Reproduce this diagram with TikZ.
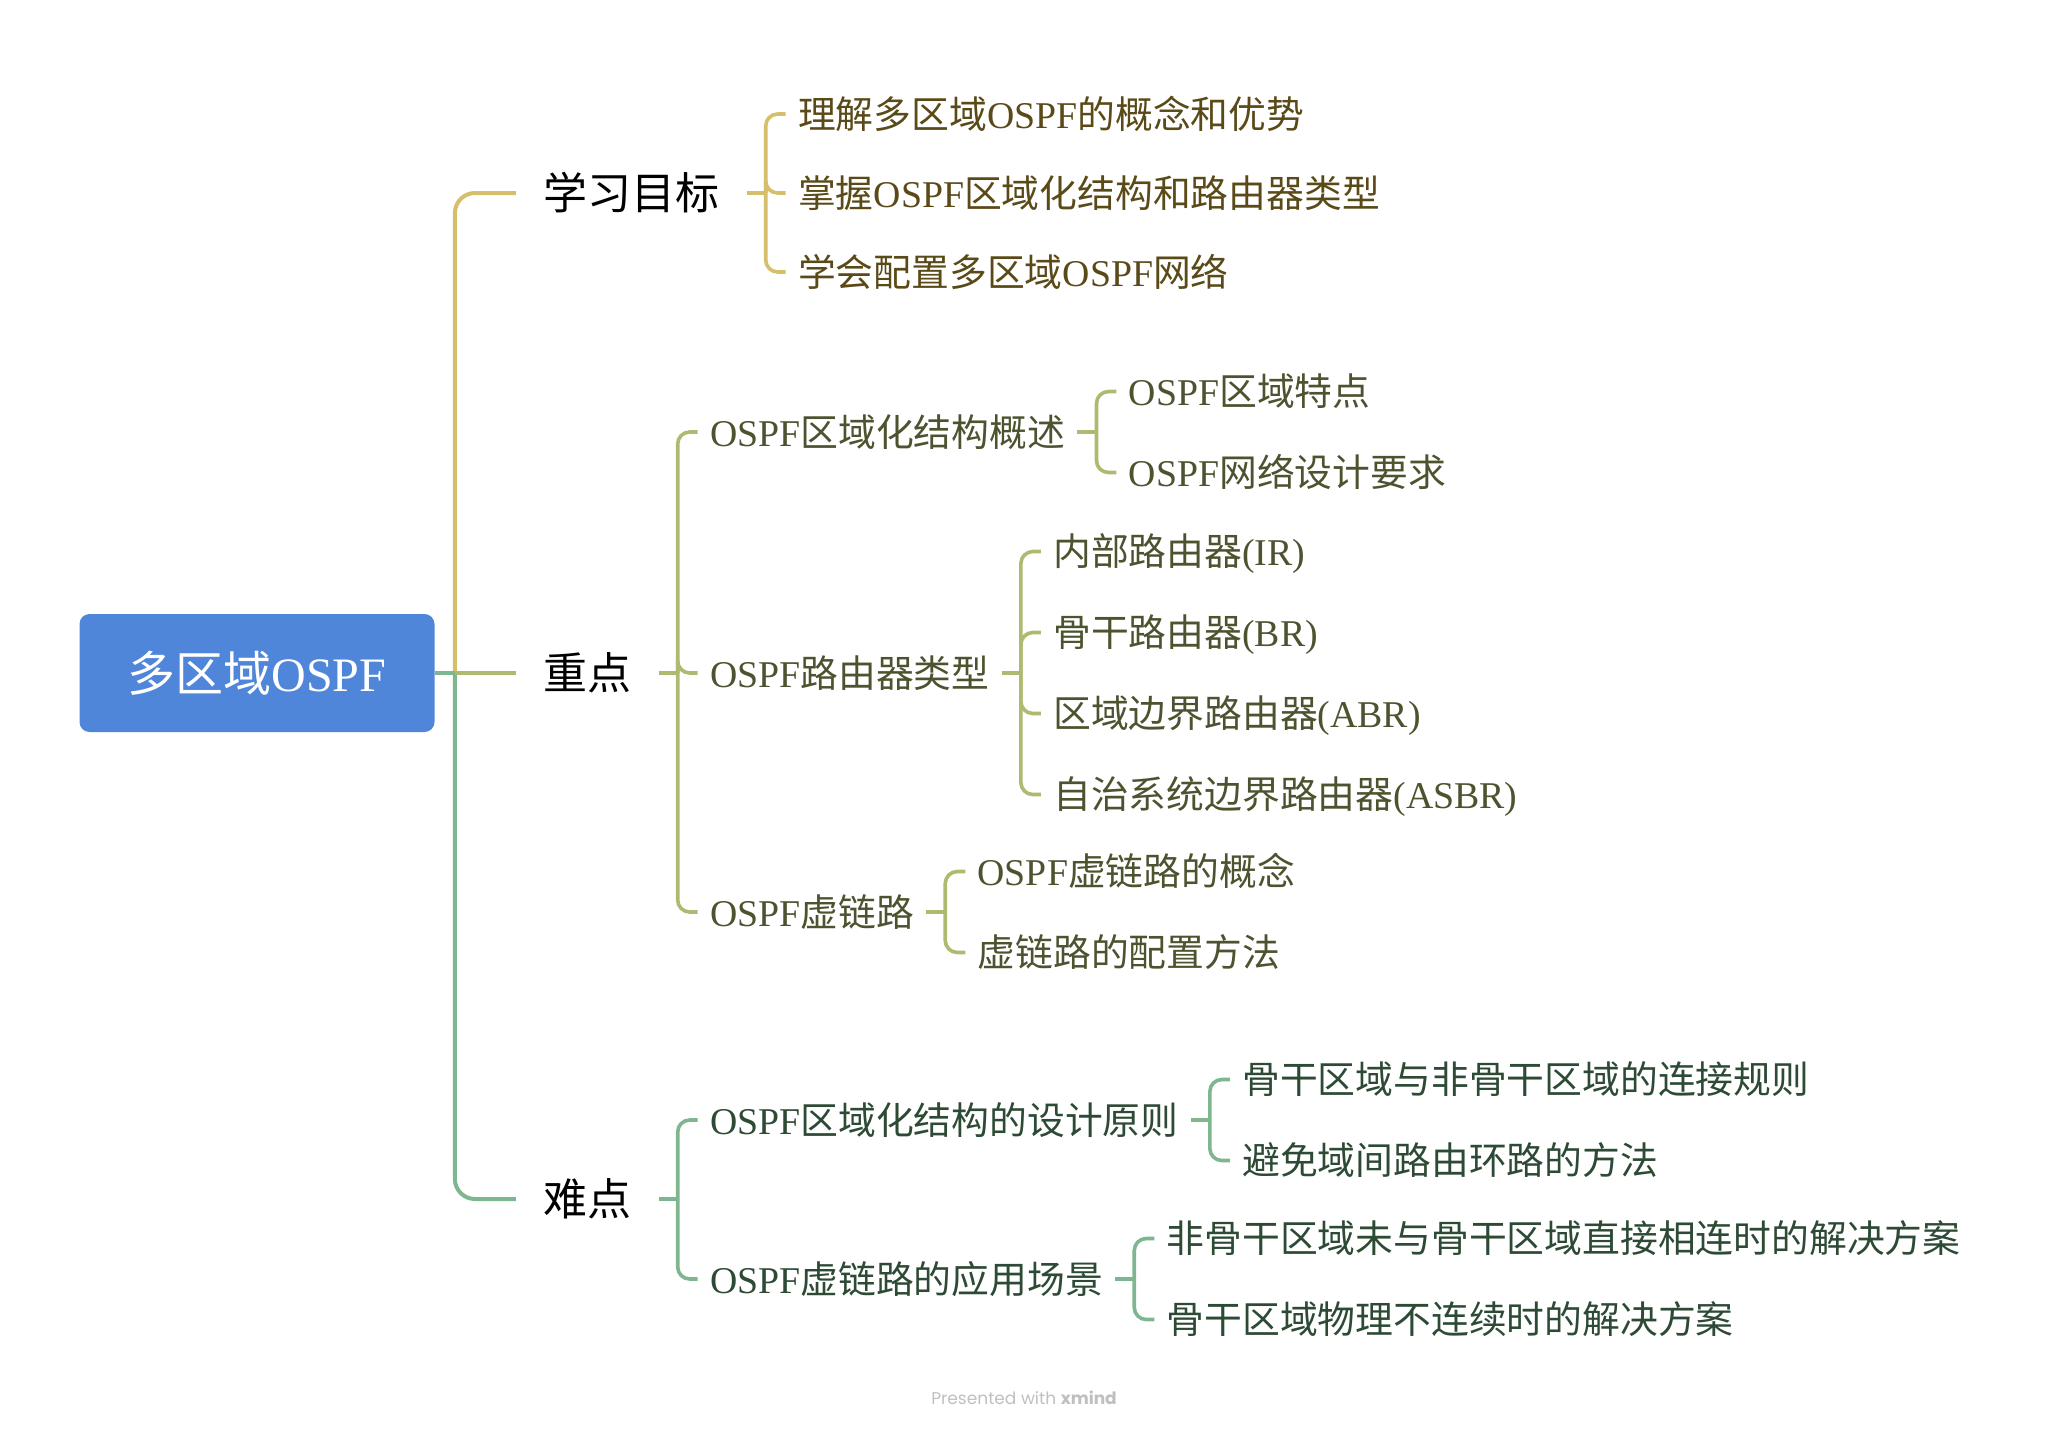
\documentclass[tikz,border=0pt]{standalone}
\usepackage{fontspec}
\usepackage{xcolor}
\setmainfont{Noto Sans CJK SC}
\newfontfamily\latfont{Liberation Serif}
\newfontfamily\wmfont{Poppins}
\newcommand\latn[1]{{\latfont #1}}
\usetikzlibrary{positioning}
\definecolor{rootblue}{HTML}{4F86DA}
\definecolor{goldln}{HTML}{D6BF6B}
\definecolor{oliveln}{HTML}{AFB970}
\definecolor{greenln}{HTML}{7DB68F}
\definecolor{goldtx}{HTML}{5A4A18}
\definecolor{olivetx}{HTML}{4B532F}
\definecolor{greentx}{HTML}{2D4A35}

\begin{document}
\begin{tikzpicture}[x=0.5pt,y=-0.5pt,node distance=19.5pt,
  topic/.style={inner xsep=13.5pt,inner ysep=0pt,text height=19.4pt,text depth=2.6pt,font=\fontsize{22}{26}\selectfont},
  sub/.style={inner xsep=6pt,inner ysep=0pt,text height=16.5pt,text depth=2.4pt,font=\fontsize{18.9}{22}\selectfont},
  trunk/.style={line width=2pt,rounded corners=10pt},
  brk/.style={line width=1.8pt,rounded corners=6pt}]
\useasboundingbox (0,0) rectangle (2050,1431);
% root and main topics
\node[fill=rootblue,rounded corners=5pt,minimum width=177.5pt,minimum height=59pt,text=white,
  text height=21pt,text depth=3pt,font=\fontsize{24}{28}\selectfont](root) at (257,673){多区域\latn{OSPF}};
\node[topic,right=40.5pt of root,yshift=240pt](goal){学习目标};
\node[topic,right=40.5pt of root](key){重点};
\node[topic,right=40.5pt of root,yshift=-263pt](hard){难点};
\coordinate (tr) at ([xshift=10pt]root.east);
\draw[trunk,goldln](tr) |- (goal.west);
\draw[trunk,greenln](tr) |- (hard.west);
\draw[trunk,greenln](root.east) -- (tr);
\draw[trunk,oliveln](tr) -- (key.west);
% goals
\begin{scope}[every node/.append style={text=goldtx}]
  \node[sub,right=of goal,yshift=39.5pt](g1){理解多区域\latn{OSPF}的概念和优势};
  \node[sub,right=of goal](g2){掌握\latn{OSPF}区域化结构和路由器类型};
  \node[sub,right=of goal,yshift=-39.5pt](g3){学会配置多区域\latn{OSPF}网络};
  \coordinate (gj) at ([xshift=9.5pt]goal.east);
  \draw[brk,goldln](goal.east) -- (gj);
  \draw[brk,goldln](gj) |- (g1.west); \draw[brk,goldln](gj) |- (g2.west); \draw[brk,goldln](gj) |- (g3.west);
\end{scope}
% key points
\begin{scope}[every node/.append style={text=olivetx}]
  \node[sub,right=of key,yshift=120.5pt](k1){\latn{OSPF}区域化结构概述};
  \node[sub,right=of key](k2){\latn{OSPF}路由器类型};
  \node[sub,right=of key,yshift=-119.5pt](k3){\latn{OSPF}虚链路};
  \coordinate (kj) at ([xshift=9.5pt]key.east);
  \draw[brk,oliveln](key.east) -- (kj);
  \draw[brk,oliveln](kj) |- (k1.west); \draw[brk,oliveln](kj) |- (k2.west); \draw[brk,oliveln](kj) |- (k3.west);
  % structure overview
  \node[sub,right=of k1,yshift=20.25pt](k11){\latn{OSPF}区域特点};
  \node[sub,right=of k1,yshift=-20.25pt](k12){\latn{OSPF}网络设计要求};
  \coordinate (k1j) at ([xshift=9.5pt]k1.east);
  \draw[brk,oliveln](k1.east) -- (k1j);
  \draw[brk,oliveln](k1j) |- (k11.west); \draw[brk,oliveln](k1j) |- (k12.west);
  % router types
  \node[sub,right=of k2,yshift=60.75pt](k21){内部路由器\latn{(IR)}};
  \node[sub,right=of k2,yshift=20.25pt](k22){骨干路由器\latn{(BR)}};
  \node[sub,right=of k2,yshift=-20.25pt](k23){区域边界路由器\latn{(ABR)}};
  \node[sub,right=of k2,yshift=-60.75pt](k24){自治系统边界路由器\latn{(ASBR)}};
  \coordinate (k2j) at ([xshift=9.5pt]k2.east);
  \draw[brk,oliveln](k2.east) -- (k2j);
  \draw[brk,oliveln](k2j) |- (k21.west); \draw[brk,oliveln](k2j) |- (k22.west);
  \draw[brk,oliveln](k2j) |- (k23.west); \draw[brk,oliveln](k2j) |- (k24.west);
  % virtual link
  \node[sub,right=of k3,yshift=20.25pt](k31){\latn{OSPF}虚链路的概念};
  \node[sub,right=of k3,yshift=-20.25pt](k32){虚链路的配置方法};
  \coordinate (k3j) at ([xshift=9.5pt]k3.east);
  \draw[brk,oliveln](k3.east) -- (k3j);
  \draw[brk,oliveln](k3j) |- (k31.west); \draw[brk,oliveln](k3j) |- (k32.west);
\end{scope}
% difficulties
\begin{scope}[every node/.append style={text=greentx}]
  \node[sub,right=of hard,yshift=39.5pt](h1){\latn{OSPF}区域化结构的设计原则};
  \node[sub,right=of hard,yshift=-40pt](h2){\latn{OSPF}虚链路的应用场景};
  \coordinate (hj) at ([xshift=9.5pt]hard.east);
  \draw[brk,greenln](hard.east) -- (hj);
  \draw[brk,greenln](hj) |- (h1.west); \draw[brk,greenln](hj) |- (h2.west);
  \node[sub,right=of h1,yshift=20.25pt](h11){骨干区域与非骨干区域的连接规则};
  \node[sub,right=of h1,yshift=-20.25pt](h12){避免域间路由环路的方法};
  \coordinate (h1j) at ([xshift=9.5pt]h1.east);
  \draw[brk,greenln](h1.east) -- (h1j);
  \draw[brk,greenln](h1j) |- (h11.west); \draw[brk,greenln](h1j) |- (h12.west);
  \node[sub,right=of h2,yshift=20.25pt](h21){非骨干区域未与骨干区域直接相连时的解决方案};
  \node[sub,right=of h2,yshift=-20.25pt](h22){骨干区域物理不连续时的解决方案};
  \coordinate (h2j) at ([xshift=9.5pt]h2.east);
  \draw[brk,greenln](h2.east) -- (h2j);
  \draw[brk,greenln](h2j) |- (h21.west); \draw[brk,greenln](h2j) |- (h22.west);
\end{scope}
\node[font=\wmfont\fontsize{8.5}{10}\selectfont,text=black!25](wm) at (1024,1398){Presented with \textbf{xmind}};
\end{tikzpicture}
\end{document}
